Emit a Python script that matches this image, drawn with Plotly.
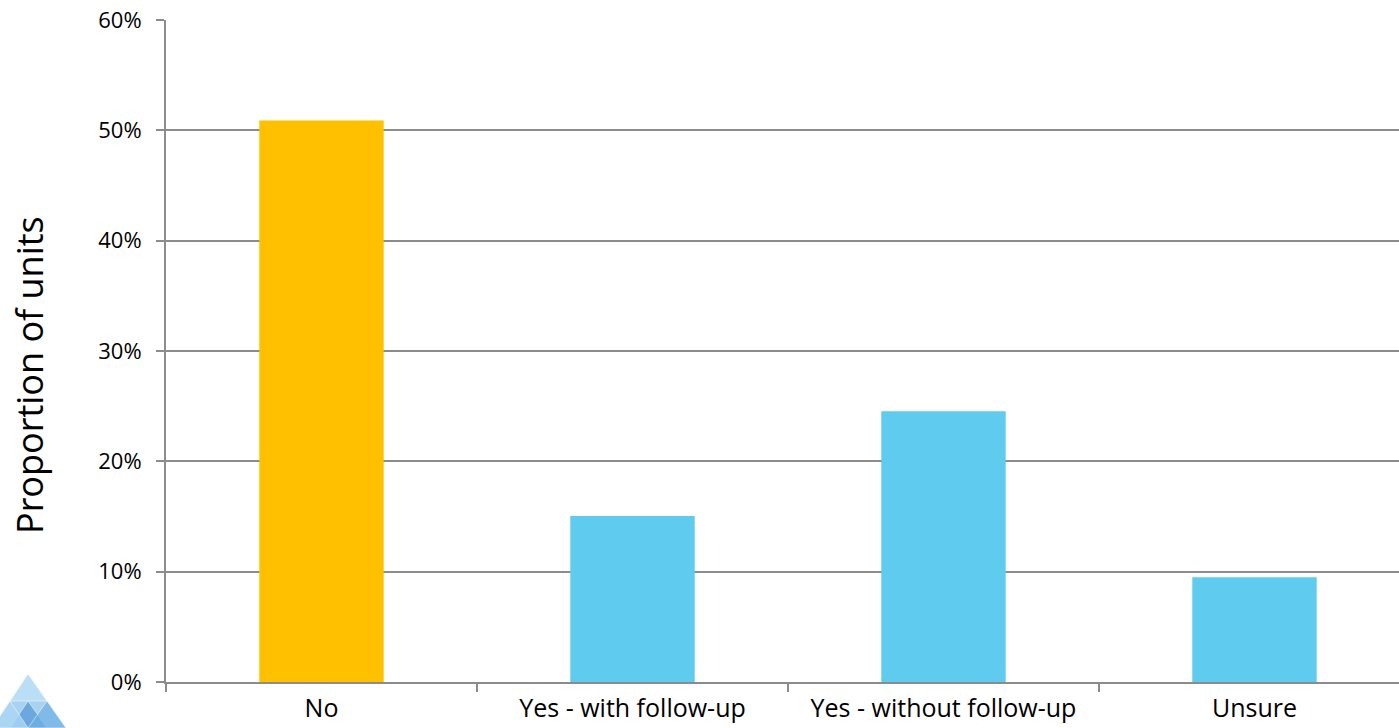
import plotly.graph_objects as go

categories = ["No", "Yes - with follow-up", "Yes - without follow-up", "Unsure"]
values = [50.9, 15.05, 24.55, 9.5]
colors = ["#FFC000", "#5FCBEF", "#5FCBEF", "#5FCBEF"]
y_ticks = [0, 10, 20, 30, 40, 50, 60]
y_tick_labels = [f"{v}%" for v in y_ticks]

W, H = 1399, 728
L, T, R = 166, 20, 0
B = H - 682
pw, ph = W - L - R, H - T - B

fig = go.Figure()
fig.add_trace(go.Bar(x=categories, y=values, marker=dict(color=colors, line=dict(width=0)),
                     width=0.4, showlegend=False, hoverinfo="skip"))

def px(x):
    return (x - L) / pw

def py(y):
    return (H - B - y) / ph

# logo approximation (faceted light blue pyramid)
logo = [
    ((-8, 728), (28, 674), (66, 728), "rgba(140,195,235,0.75)"),
    ((10, 728), (28, 701), (47, 728), "rgba(80,150,215,0.7)"),
    ((-8, 728), (10, 701), (28, 728), "rgba(170,215,245,0.8)"),
    ((28, 728), (47, 701), (66, 728), "rgba(110,175,230,0.7)"),
    ((10, 701), (28, 674), (47, 701), "rgba(190,225,248,0.8)"),
]
for a, b, c, col in logo:
    fig.add_shape(type="path", xref="paper", yref="paper",
                  path=f"M {px(a[0])},{py(a[1])} L {px(b[0])},{py(b[1])} L {px(c[0])},{py(c[1])} Z",
                  fillcolor=col, line=dict(width=0.5, color="white"), layer="above")

fig.add_annotation(text="Proportion of units", xref="paper", yref="paper",
                   x=px(30), y=py(375), textangle=-90, showarrow=False,
                   xanchor="center", yanchor="middle",
                   font=dict(size=36, family="Open Sans", color="#000000"))

fig.update_layout(
    width=W, height=H,
    margin=dict(l=L, r=R, t=T, b=B, pad=0, autoexpand=False),
    plot_bgcolor="white", paper_bgcolor="white",
    font=dict(family="Open Sans, sans-serif", color="#000000", size=22),
    xaxis=dict(type="category", range=[-0.5, -0.5 + pw / 311.0], automargin=False,
               showline=True, linecolor="#8C8C8C", linewidth=2,
               ticks="outside", tickson="boundaries", ticklen=8, tickwidth=2, tickcolor="#8C8C8C",
               showgrid=False, tickfont=dict(size=25), ticklabelstandoff=3, fixedrange=True),
    yaxis=dict(range=[0, 60], tickvals=y_ticks, ticktext=y_tick_labels, automargin=False,
               showline=True, linecolor="#8C8C8C", linewidth=2,
               ticks="outside", ticklen=8, tickwidth=2, tickcolor="#8C8C8C",
               showgrid=True, gridcolor="#8C8C8C", gridwidth=2, zeroline=False,
               tickfont=dict(size=22), ticklabelstandoff=10, fixedrange=True),
)

fig.write_html("out.html", config={"displayModeBar": False},
               post_script="document.body.style.margin='0';document.body.style.overflow='hidden';")
